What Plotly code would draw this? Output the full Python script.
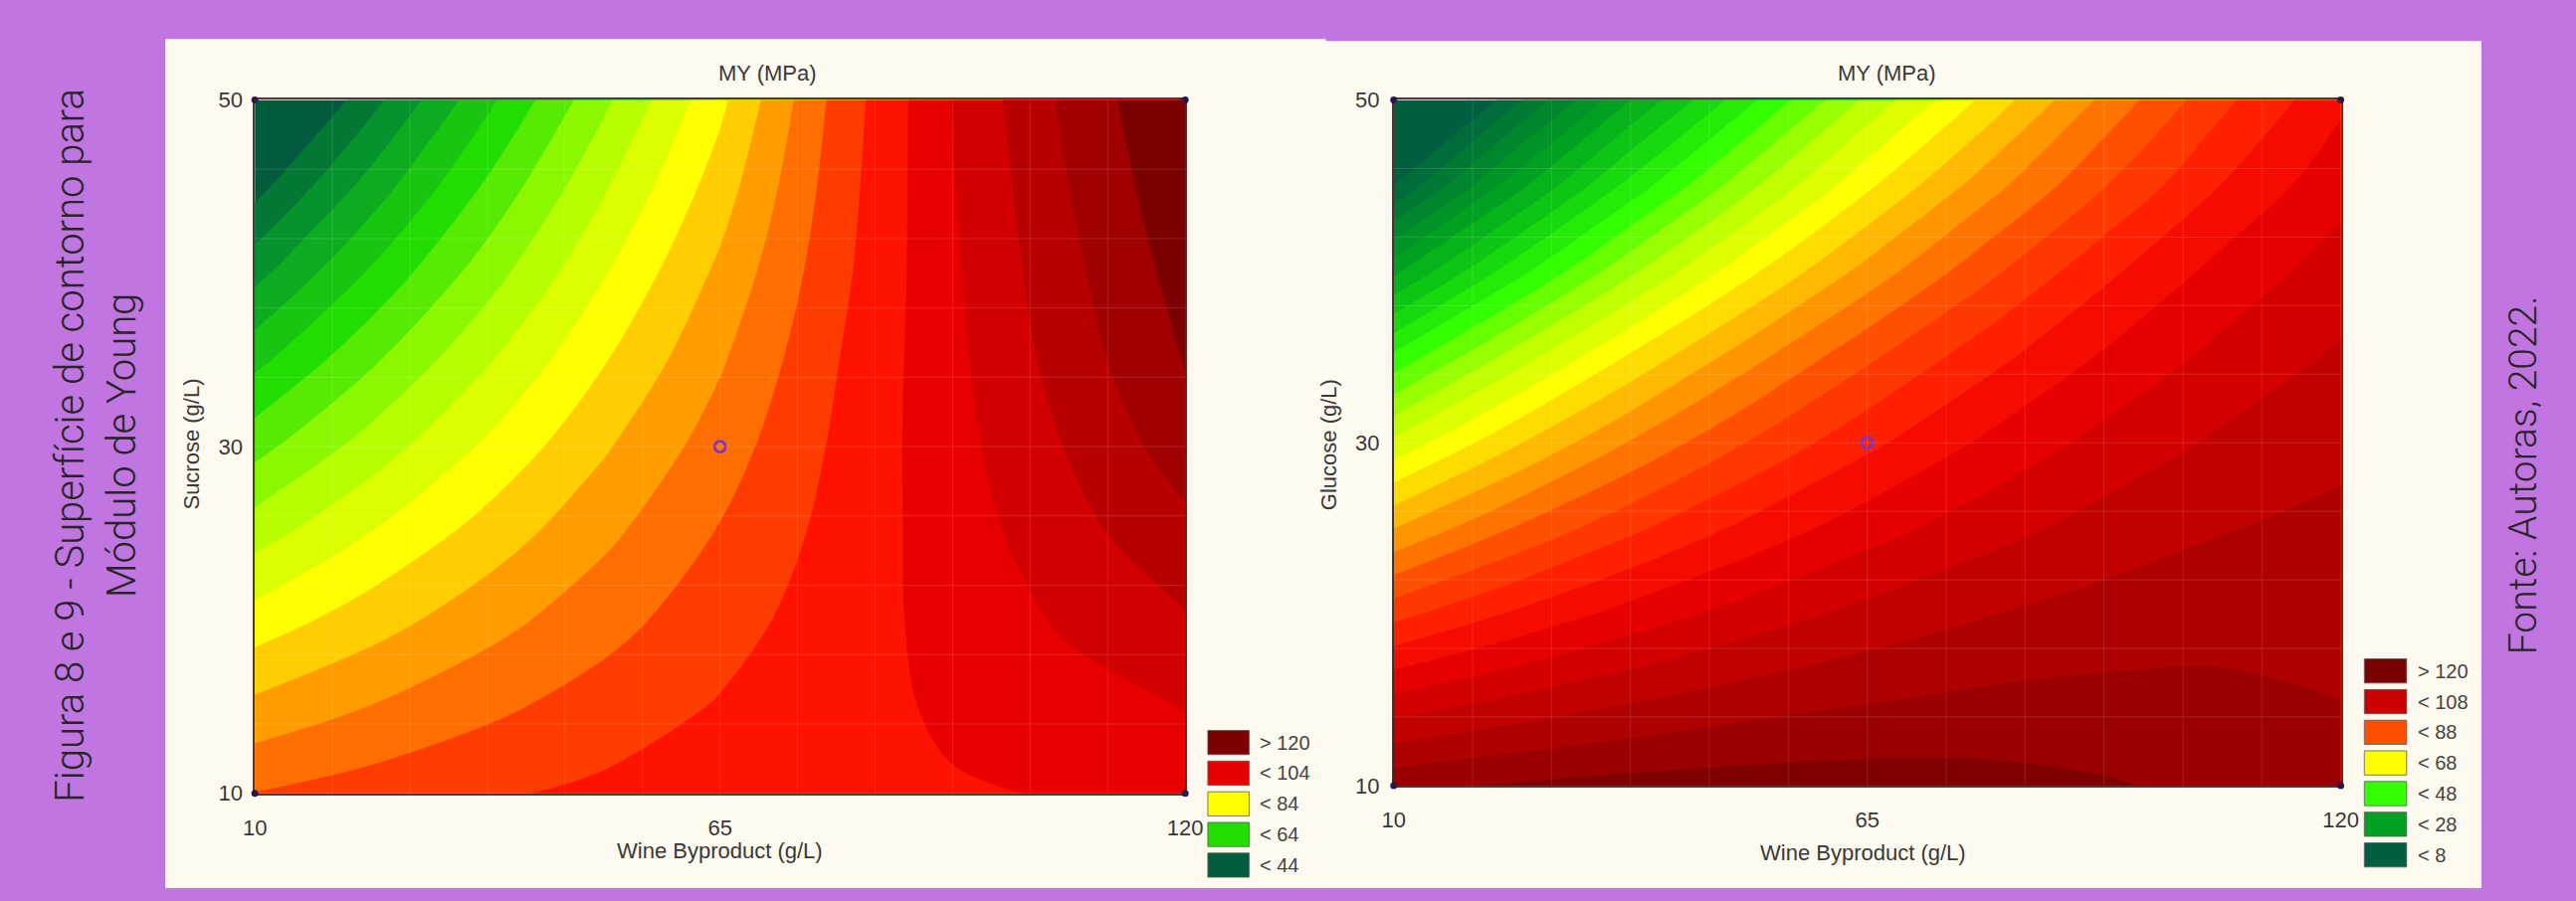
import plotly.graph_objects as go

# ---------------- data ----------------
wine_byproduct = [10, 23.75, 37.5, 51.25, 65, 78.75, 92.5, 106.25, 120]
sucrose = [10, 15, 20, 25, 30, 35, 40, 45, 50]
glucose = [10, 15, 20, 25, 30, 35, 40, 45, 50]

# MY (MPa) – rows follow the y list (10 -> 50), columns follow wine_byproduct
my_sucrose = [
    [96.1, 97.9, 99.5, 100.8, 102.0, 102.9, 103.7, 104.2, 104.5],
    [89.0, 92.1, 95.1, 97.8, 100.3, 102.6, 104.6, 106.5, 108.2],
    [81.7, 86.2, 90.5, 94.5, 98.4, 102.0, 105.4, 108.6, 111.6],
    [74.3, 80.1, 85.7, 91.1, 96.3, 101.3, 106.0, 110.6, 114.9],
    [66.6, 73.8, 80.7, 87.5, 94.0, 100.6, 106.6, 112.3, 118.0],
    [58.8, 67.3, 75.6, 83.7, 91.5, 99.8, 107.0, 113.9, 120.3],
    [50.7, 60.6, 70.2, 79.7, 88.9, 98.8, 107.4, 115.0, 121.6],
    [42.5, 53.7, 64.7, 75.5, 86.0, 98.0, 107.8, 116.0, 123.0],
    [34.1, 46.6, 59.0, 71.1, 83.0, 97.2, 108.2, 117.0, 124.2],
]
my_glucose = [
    [118.9, 120.4, 121.4, 121.9, 121.9, 121.4, 120.4, 118.9, 116.9],
    [105.0, 108.6, 111.6, 114.0, 115.7, 116.8, 117.1, 116.9, 116.0],
    [90.7, 96.5, 101.6, 105.8, 109.2, 111.8, 113.6, 114.5, 114.7],
    [76.0, 84.1, 91.1, 97.2, 102.3, 106.4, 109.6, 111.8, 113.0],
    [61.0, 71.2, 80.3, 88.2, 95.0, 100.7, 105.3, 108.7, 111.0],
    [45.0, 57.5, 68.6, 78.5, 87.2, 94.5, 100.5, 105.2, 108.6],
    [27.0, 42.0, 55.2, 67.0, 77.5, 86.8, 95.0, 101.4, 105.8],
    [8.0, 26.0, 41.5, 55.0, 67.2, 78.2, 87.8, 96.2, 102.7],
    [-9.0, 10.5, 28.0, 43.0, 57.0, 69.0, 81.0, 91.0, 99.2],
]

sucrose_levels = [44, 120, 4]     # start, end, step
glucose_levels = [8, 120, 4]

sucrose_legend_labels = ["> 120", "< 104", "< 84", "< 64", "< 44"]
glucose_legend_labels = ["> 120", "< 108", "< 88", "< 68", "< 48", "< 28", "< 8"]

x_tick_values = [10, 65, 120]
y_tick_values = [10, 30, 50]

design_x = [10, 120, 10, 120]
design_y = [10, 10, 50, 50]
center_x = [65]
center_y = [30]

chart_title = "MY (MPa)"
x_title = "Wine Byproduct (g/L)"
y_title_left = "Sucrose (g/L)"
y_title_right = "Glucose (g/L)"
side_caption = "Figura 8 e 9 - Superfície de contorno para<br>Módulo de Young"
source_caption = "Fonte: Autoras, 2022."

# ---------------- styles ----------------
W, H = 2589, 906
PURPLE = "#c075e1"
CREAM = "#fefaef"
NARROW = "Liberation Sans Narrow, Arial Narrow, Liberation Sans, Arial, sans-serif"
SIDE_FONT = "Roboto, Open Sans, sans-serif"
TXT = "#383838"

left_anchor_colors = [(42, "#005c3c"), (52, "#08a028"), (62, "#22dd00"), (72, "#a5ff00"),
                      (82, "#ffff00"), (88, "#ffb400"), (94, "#ff6e00"), (98, "#ff3c00"),
                      (102, "#ff1200"), (106, "#e80000"), (110, "#d20000"), (114, "#b80000"),
                      (118, "#a00000"), (122, "#7b0000")]
right_anchor_colors = [(6, "#005f40"), (16, "#007f30"), (26, "#00a020"), (36, "#10d010"),
                       (46, "#33ff00"), (56, "#b0ff00"), (66, "#ffff00"), (76, "#ffa800"),
                       (86, "#ff5000"), (94, "#ff2000"), (100, "#f00000"), (106, "#d40000"),
                       (112, "#b80000"), (118, "#9a0000"), (122, "#800000")]
left_legend_colors = ["#7b0000", "#e60000", "#ffff00", "#22dd00", "#005c3c"]
right_legend_colors = ["#7b0000", "#cc0000", "#ff5000", "#ffff00", "#33ff00", "#00a020", "#005f40"]


def scale_from(anchors):
    lo, hi = anchors[0][0], anchors[-1][0]
    return [[(v - lo) / (hi - lo), c] for v, c in anchors]


def px(xp):
    return xp / W


def py(yp):
    return 1 - yp / H


# plot areas in page pixels (left, right, top, bottom)
L_AREA = (247, 1193, 91, 808)
R_AREA = (1405, 2368, 91, 800)

fig = go.Figure()

for lv, z, yv, anchors, xa, ya in [
    (sucrose_levels, my_sucrose, sucrose, left_anchor_colors, "x", "y"),
    (glucose_levels, my_glucose, glucose, right_anchor_colors, "x2", "y2"),
]:
    fig.add_trace(go.Contour(
        x=wine_byproduct, y=yv, z=z, xaxis=xa, yaxis=ya,
        contours=dict(start=lv[0], end=lv[1], size=lv[2], coloring="fill", showlines=False),
        colorscale=scale_from(anchors), showscale=False,
        line=dict(width=0, smoothing=1.0), hoverinfo="skip",
    ))
    fig.add_trace(go.Scatter(x=design_x, y=design_y, xaxis=xa, yaxis=ya, mode="markers",
                             marker=dict(size=7, color="#2b1a70"), hoverinfo="skip", cliponaxis=False))
    fig.add_trace(go.Scatter(x=center_x, y=center_y, xaxis=xa, yaxis=ya, mode="markers",
                             marker=dict(size=11, symbol="circle-open", color="#7432d6",
                                         line=dict(width=2.6)), hoverinfo="skip"))

axis_common = dict(showgrid=False, zeroline=False, showline=True, mirror=True,
                   linecolor="rgba(55,20,20,0.85)", linewidth=1.5, ticks="",
                   tickfont=dict(family=NARROW, size=22, color=TXT), fixedrange=True)

fig.update_layout(
    width=W, height=H, autosize=False,
    margin=dict(l=0, r=0, t=0, b=0),
    paper_bgcolor=PURPLE, plot_bgcolor=CREAM, showlegend=False,
    xaxis=dict(domain=[px(L_AREA[0]), px(L_AREA[1])], range=[10, 120], tickvals=x_tick_values,
               anchor="y", ticklabelstandoff=14, **axis_common),
    yaxis=dict(domain=[py(L_AREA[3]), py(L_AREA[2])], range=[10, 50], tickvals=y_tick_values,
               anchor="x", ticklabelstandoff=6, **axis_common),
    xaxis2=dict(domain=[px(R_AREA[0]), px(R_AREA[1])], range=[10, 120], tickvals=x_tick_values,
                anchor="y2", ticklabelstandoff=14, **axis_common),
    yaxis2=dict(domain=[py(R_AREA[3]), py(R_AREA[2])], range=[10, 50], tickvals=y_tick_values,
                anchor="x2", ticklabelstandoff=8, **axis_common),
)

shapes = [
    dict(type="rect", xref="paper", yref="paper", x0=px(156), x1=px(1336), y0=0, y1=py(28),
         fillcolor=CREAM, line=dict(width=0), layer="below"),
    dict(type="rect", xref="paper", yref="paper", x0=px(1334), x1=px(2511), y0=0, y1=py(30),
         fillcolor=CREAM, line=dict(width=0), layer="below"),
]

# faint grid lines over the filled contours
for xr, yr in [("x", "y"), ("x2", "y2")]:
    for k in range(1, 12):
        xv = 10 + k * 110 / 12
        shapes.append(dict(type="line", xref=xr, yref=yr + " domain", x0=xv, x1=xv, y0=0, y1=1,
                           line=dict(color="rgba(255,255,255,0.12)", width=1), layer="above"))
    for k in range(1, 10):
        yv_ = 10 + 4 * k
        shapes.append(dict(type="line", xref=xr + " domain", yref=yr, x0=0, x1=1, y0=yv_, y1=yv_,
                           line=dict(color="rgba(255,255,255,0.14)", width=1), layer="above"))

annotations = []


def add_legend(labels, colors, box_x0, box_x1, top0, pitch):
    for i, (lab, col) in enumerate(zip(labels, colors)):
        t = top0 + i * pitch
        shapes.append(dict(type="rect", xref="paper", yref="paper", x0=px(box_x0), x1=px(box_x1),
                           y0=py(t + 25), y1=py(t), fillcolor=col,
                           line=dict(color="rgba(90,90,90,0.8)", width=1)))
        annotations.append(dict(text=lab, xref="paper", yref="paper", x=px(box_x1 + 9), y=py(t + 12.5),
                                xanchor="left", yanchor="middle", showarrow=False,
                                font=dict(family=NARROW, size=20, color="#444444")))


add_legend(sucrose_legend_labels, left_legend_colors, 1216, 1258, 743, 31.7)
add_legend(glucose_legend_labels, right_legend_colors, 2392, 2435, 669, 31.7)


def add_text(text, x, y, size, angle=0, family=NARROW, color=TXT, weight=None):
    f = dict(family=family, size=size, color=color)
    if weight:
        f["weight"] = weight
    annotations.append(dict(text=text, xref="paper", yref="paper", x=px(x), y=py(y),
                            xanchor="center", yanchor="middle", showarrow=False,
                            textangle=angle, font=f))


add_text(chart_title, 768, 63, 22)
add_text(chart_title, 1907, 63, 22)
add_text(x_title, 720, 867, 22)
add_text(x_title, 1882, 870, 22)
add_text(y_title_left, 183, 447, 22, angle=-90)
add_text(y_title_right, 1339, 447, 22, angle=-90)
add_text(side_caption, 86, 448, 40, angle=-90, family=SIDE_FONT, color="#262626", weight=300)
add_text(source_caption, 2553, 479, 39, angle=-90, family=SIDE_FONT, color="#262626", weight=300)

fig.update_layout(shapes=shapes, annotations=annotations)

fig.write_html("out.html", config={"displayModeBar": False},
               post_script="document.body.style.margin='0';document.body.style.overflow='hidden';")
